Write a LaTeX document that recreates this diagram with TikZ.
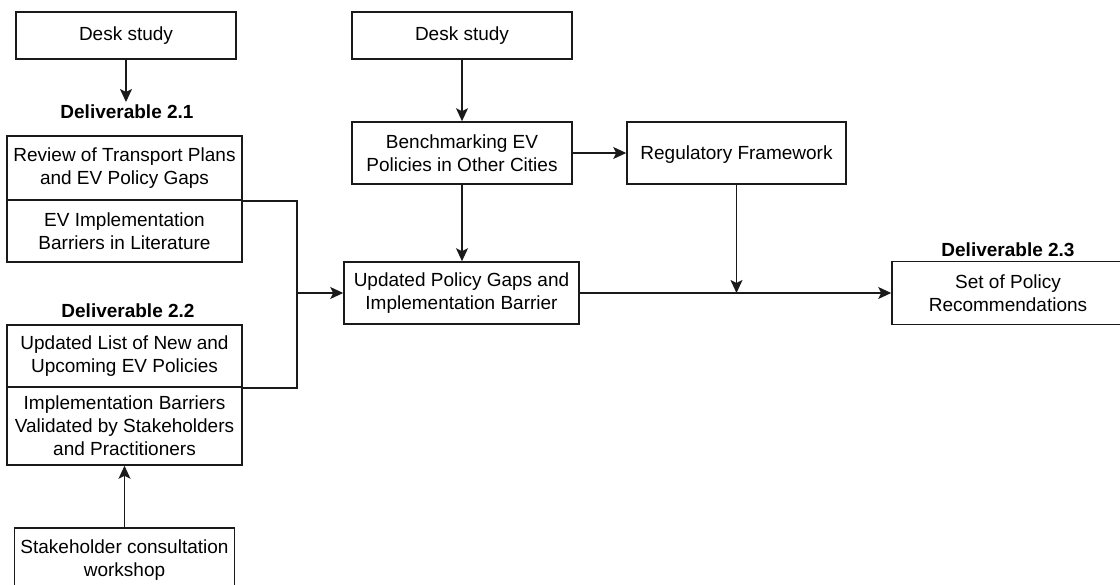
\documentclass[tikz,border=0pt]{standalone}
\usepackage{fontspec}
\setmainfont{Liberation Sans}
\usetikzlibrary{arrows.meta}

\begin{document}
\begin{tikzpicture}[x=1pt, y=-1pt,
    plainBox/.style={draw=borderColour, line width=1.6pt, rectangle, align=center,
        inner sep=0pt, font=\fontsize{19}{23}\selectfont},
    delivLabel/.style={inner sep=0pt, outer sep=3pt, font=\fontsize{19}{23}\selectfont\bfseries},
    arrowLine/.style={draw=borderColour, line width=1.6pt,
        -{Stealth[length=13pt, width=12pt, inset=3pt]}},
    plainLine/.style={draw=borderColour, line width=1.6pt}]

    \definecolor{borderColour}{HTML}{1A1A1A}

    % Fix the page size
    \useasboundingbox (0,0) rectangle (1120,585);

    % Left column: Deliverable 2.1
    \node[plainBox, minimum width=220pt, minimum height=47pt] (deskLeft) at (126,35.5) {Desk study};
    \node[delivLabel] (labelTwoOne) at (127,112) {Deliverable 2.1};
    \node[plainBox, minimum width=235pt, minimum height=64pt] (reviewPlans) at (124.5,168)
        {Review of Transport Plans\\and EV Policy Gaps};
    \node[plainBox, minimum width=235pt, minimum height=62pt] (barriersLit) at (124.5,231)
        {EV Implementation\\Barriers in Literature};

    % Left column: Deliverable 2.2
    \node[delivLabel] (labelTwoTwo) at (128,311) {Deliverable 2.2};
    \node[plainBox, minimum width=235pt, minimum height=62pt] (updatedList) at (124.5,356)
        {Updated List of New and\\Upcoming EV Policies};
    \node[plainBox, minimum width=235pt, minimum height=78pt] (barriersValid) at (124.5,426)
        {Implementation Barriers\\Validated by Stakeholders\\and Practitioners};
    \node[plainBox, minimum width=220pt, minimum height=64pt] (workshop) at (124.5,560)
        {Stakeholder consultation\\workshop};

    % Middle column
    \node[plainBox, minimum width=220pt, minimum height=47pt] (deskMid) at (462,35.5) {Desk study};
    \node[plainBox, minimum width=220pt, minimum height=62pt] (benchmark) at (462,153)
        {Benchmarking EV\\Policies in Other Cities};
    \node[plainBox, minimum width=235pt, minimum height=62pt] (updatedGaps) at (461.5,293)
        {Updated Policy Gaps and\\Implementation Barrier};
    \node[plainBox, minimum width=219pt, minimum height=62pt, text height=18pt, text depth=4pt]
        (regFramework) at (736.5,153) {Regulatory Framework};

    % Right column: Deliverable 2.3
    \node[delivLabel] (labelTwoThree) at (1008,250) {Deliverable 2.3};
    \node[plainBox, minimum width=232pt, minimum height=63pt] (recommendations) at (1008,293)
        {Set of Policy\\Recommendations};

    % Junction points
    \coordinate (joinLeft) at (297,293);
    \coordinate (joinRight) at (regFramework.south |- updatedGaps.east);

    % Connectors
    \draw[arrowLine] (deskLeft.south) -- (deskLeft.south |- labelTwoOne.north);
    \draw[arrowLine] (workshop.north) -- (barriersValid.south);
    \draw[plainLine] (reviewPlans.south east) -| (joinLeft) |- (updatedList.south east);
    \draw[arrowLine] (joinLeft) -- (updatedGaps.west);
    \draw[arrowLine] (deskMid.south) -- (benchmark.north);
    \draw[arrowLine] (benchmark.south) -- (updatedGaps.north -| benchmark.south);
    \draw[arrowLine] (benchmark.east) -- (regFramework.west);
    \draw[arrowLine] (regFramework.south) -- (joinRight);
    \draw[arrowLine] (updatedGaps.east) -- (recommendations.west);

\end{tikzpicture}
\end{document}
